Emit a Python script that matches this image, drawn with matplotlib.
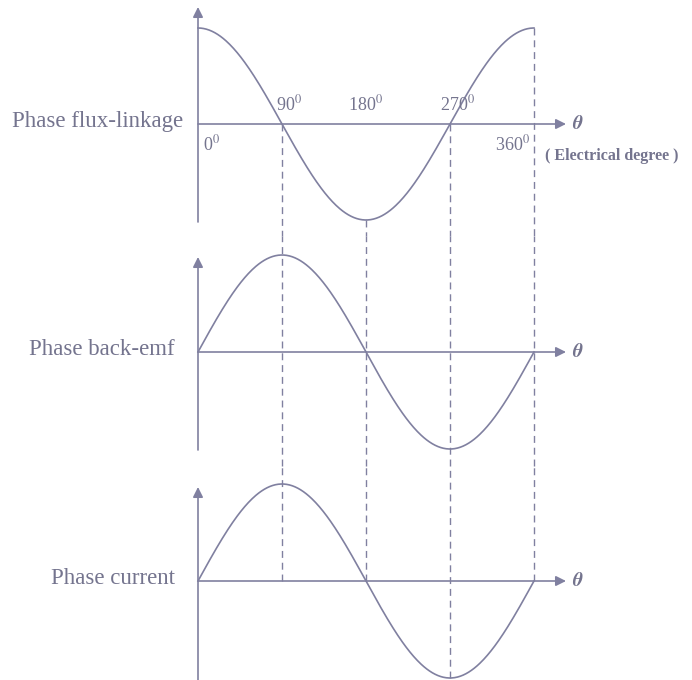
import matplotlib
matplotlib.use("Agg")
import matplotlib.pyplot as plt
import numpy as np

# data: phase angle (electrical degree) and the three waveforms
theta = np.linspace(0, 360, 361)
flux = np.cos(np.radians(theta))       # phase flux-linkage
emf = np.sin(np.radians(theta))        # phase back-emf
current = np.sin(np.radians(theta))    # phase current
panel_names = ["Phase flux-linkage", "Phase back-emf", "Phase current"]
tick_angles = [0, 90, 180, 270, 360]
tick_labels = ["0$^{0}$", "90$^{0}$", "180$^{0}$", "270$^{0}$", "360$^{0}$"]

plt.rcParams["font.family"] = ["Liberation Serif", "DejaVu Serif"]
plt.rcParams["mathtext.fontset"] = "stix"

col = "#8080a0"
tcol = "#74748e"
W, H = 692, 680
x0px, pxdeg = 198, 336 / 360.0

fig = plt.figure(figsize=(W / 100, H / 100), dpi=100)

# pixel layout of each panel: top, bottom, zero line, amplitude, v-axis bottom, v-axis tip, label right edge
layout = [
    (0, 236, 124, 96, 222, 7, 183),
    (236, 466, 352, 97, 450, 257, 175),
    (466, 680, 581, 97, 680, 487, 175),
]
waves = [flux, emf, current]

axes = []
for (top, bot, zero, amp, vb, vt, lr), wave, name in zip(layout, waves, panel_names):
    ax = fig.add_axes([0, 1 - bot / H, 1, (bot - top) / H])
    ax.set_xlim(-x0px / pxdeg, (W - x0px) / pxdeg)
    ax.set_ylim(-(bot - zero) / amp, (zero - top) / amp)
    ax.axis("off")
    yb, yt = ax.get_ylim()

    ax.plot(theta, wave, color=col, lw=1.2, clip_on=False)
    # vertical axis with arrow
    ax.annotate("", xy=(0, (zero - vt) / amp), xytext=(0, -(vb - zero) / amp),
                arrowprops=dict(arrowstyle="-|>", color=col, lw=1.2,
                                mutation_scale=15, shrinkA=0, shrinkB=0))
    # horizontal axis with arrow
    ax.annotate("", xy=((566 - x0px) / pxdeg, 0), xytext=(0, 0),
                arrowprops=dict(arrowstyle="-|>", color=col, lw=1.2,
                                mutation_scale=15, shrinkA=0, shrinkB=0))
    ax.text((578 - x0px) / pxdeg, 0, r"$\boldsymbol{\theta}$", color=tcol,
            fontsize=14, ha="center", va="center")
    ax.text((lr - x0px) / pxdeg, 0.03, name, color=tcol, fontsize=16.5,
            ha="right", va="center")
    axes.append((ax, yb, yt))

ax1, yb1, yt1 = axes[0]
ax2, yb2, yt2 = axes[1]
ax3, yb3, yt3 = axes[2]
dash = dict(color=col, lw=1.0, ls=(0, (5, 3.5)), clip_on=False)

# dashed guide lines
ax1.plot([90, 90], [0, yb1], **dash)
ax1.plot([180, 180], [-1, yb1], **dash)
ax1.plot([270, 270], [0, yb1], **dash)
ax1.plot([360, 360], [1, yb1], **dash)
for a in [90, 180, 270, 360]:
    ax2.plot([a, a], [yb2, yt2], **dash)
ax3.plot([90, 90], [0, yt3], **dash)
ax3.plot([180, 180], [0, yt3], **dash)
ax3.plot([270, 270], [-1, yt3], **dash)
ax3.plot([360, 360], [0, yt3], **dash)

# angle labels on the flux-linkage panel
ax1.text(tick_angles[0] + 5, -0.21, tick_labels[0], color=tcol, fontsize=13, ha="left", va="center")
for a, lab in zip(tick_angles[1:4], tick_labels[1:4]):
    ax1.text(a + (8 if a != 180 else 0), 0.2, lab, color=tcol, fontsize=13, ha="center", va="center")
ax1.text(tick_angles[4] - 4, -0.21, tick_labels[4], color=tcol, fontsize=13, ha="right", va="center")
ax1.text((545 - x0px) / pxdeg, -0.33, "( Electrical degree )", color=tcol,
         fontsize=11.5, fontweight="bold", ha="left", va="center")

fig.savefig("out.png", dpi=100)
